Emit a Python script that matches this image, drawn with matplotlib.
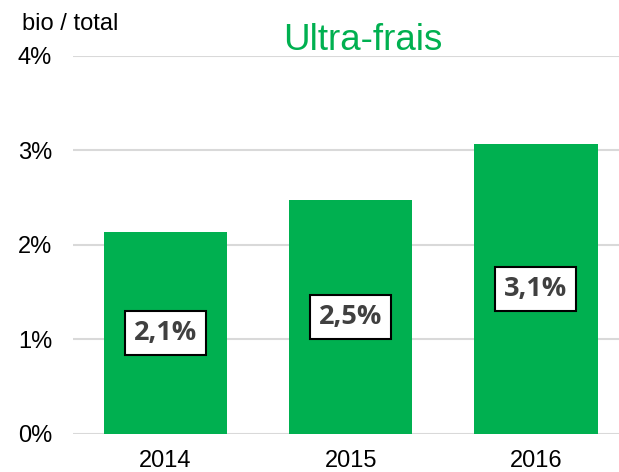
import matplotlib
matplotlib.use("Agg")
import matplotlib.pyplot as plt
from matplotlib.ticker import FuncFormatter

# data
years = ["2014", "2015", "2016"]
shares = [2.13, 2.47, 3.07]          # bio / total, in %
labels = ["2,1%", "2,5%", "3,1%"]
yticks = [0, 1, 2, 3, 4]

GREEN = "#00B050"

fig = plt.figure(figsize=(6.19, 4.72), dpi=100)
ax = fig.add_axes([73 / 619, 1 - 433.5 / 472, 546 / 619, 377.5 / 472])

x = range(len(years))
ax.bar(x, shares, width=0.668, color=GREEN, zorder=2)
for i, (v, lab) in enumerate(zip(shares, labels)):
    ax.text(i, v / 2, lab, ha="center", va="center", fontsize=19.5,
            fontweight="bold", color="#404040", family="Open Sans", zorder=3,
            bbox=dict(boxstyle="square,pad=0.33", fc="white", ec="black", lw=1.5))

ax.set_xlim(-0.5, 2.45)
ax.set_ylim(0, 4)
ax.set_yticks(yticks)
ax.yaxis.set_major_formatter(FuncFormatter(lambda v, _: f"{v:.0f}%"))
ax.set_xticks(list(x))
ax.set_xticklabels(years)
ax.tick_params(length=0, labelsize=17, labelcolor="black")
for t in ax.get_yticklabels() + ax.get_xticklabels():
    t.set_family("Liberation Sans")
ax.tick_params(axis="y", pad=15)
ax.tick_params(axis="x", pad=12)
ax.grid(axis="y", color="#D9D9D9", lw=1.5, zorder=0)
ax.set_axisbelow(True)
for s in ax.spines.values():
    s.set_visible(False)

fig.text(363 / 619, 1 - 40 / 472, "Ultra-frais", ha="center", va="center",
         fontsize=26.5, color=GREEN, family="Liberation Sans")
fig.text(22 / 619, 1 - 30 / 472, "bio / total", ha="left", va="baseline",
         fontsize=17, color="black", family="Liberation Sans")

fig.savefig("out.png", dpi=100)
